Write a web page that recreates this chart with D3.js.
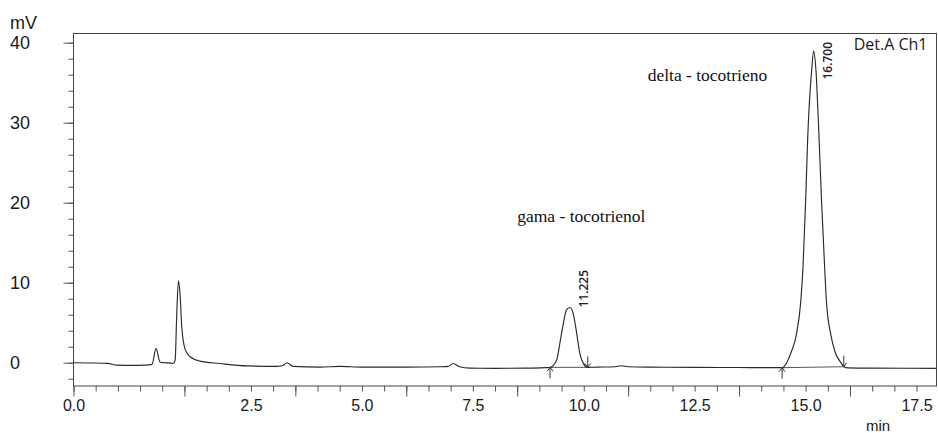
<!DOCTYPE html>
<html>
<head>
<meta charset="utf-8">
<script src="https://cdn.jsdelivr.net/npm/d3@7"></script>
<style>
  body { margin: 0; background: #fff; }
  svg { display: block; }
</style>
</head>
<body>
<div id="chart"></div>
<script>
// retention time (min) and detector signal (mV)
var time = [0, 0.4, 0.77, 0.98, 1.3, 1.6, 1.77, 1.86, 1.95, 2.05, 2.2, 2.25, 2.29, 2.33, 2.365, 2.40, 2.44, 2.52, 2.63, 2.85, 3.3,
  3.91, 4.6, 4.72, 4.81, 4.95, 5.56, 6.0, 6.5, 7.5, 8.3, 8.45, 8.56, 8.7, 8.93, 9.5, 10.2, 10.62,
  10.74, 10.89, 10.96, 11.04, 11.11, 11.19, 11.26, 11.34, 11.41, 11.49, 11.59,
  11.8, 12.2, 12.35, 12.5, 13.0, 14.0, 15.0, 15.7,
  15.97, 16.18, 16.29, 16.39, 16.44, 16.50, 16.55, 16.64, 16.68, 16.73, 16.80, 16.86, 16.93, 16.97, 17.07, 17.16, 17.31, 17.36,
  17.45, 18.0, 19.45];
var signal = [0, -0.03, -0.08, -0.3, -0.33, -0.3, -0.2, 1.8, 0.1, 0.0, -0.05, -0.08, 0.3, 6.6, 10.25, 8.7, 4.5, 1.6, 0.75, 0.2, -0.1,
  -0.4, -0.45, -0.35, 0.0, -0.45, -0.55, -0.45, -0.55, -0.55, -0.5, -0.45, -0.1, -0.5, -0.68, -0.7, -0.68, -0.62,
  -0.58, 0.34, 2.4, 4.9, 6.6, 6.9, 6.2, 3.7, 1.2, -0.08, -0.58,
  -0.55, -0.5, -0.38, -0.5, -0.55, -0.58, -0.6, -0.62,
  -0.62, 1.4, 3.46, 7.6, 11.8, 20.1, 28.5, 36.8, 39.0, 36.8, 28.5, 20.1, 11.8, 7.6, 3.46, 1.4, -0.1, -0.5,
  -0.65, -0.68, -0.7];

// integrated peaks
var peakLabels = ["11.225", "16.700"];
var peakTop = [11.19, 16.68];
var peakHeight = [6.9, 39.0];
var peakStart = [10.74, 15.97];
var peakStartValue = [-0.58, -0.62];
var peakEnd = [11.59, 17.36];
var peakEndValue = [-0.58, -0.5];

// compound names (time, mV of text anchor)
var compoundNames = ["gama - tocotrienol", "delta - tocotrieno"];
var compoundTime = [10.0, 12.94];
var compoundValue = [17.6, 35.2];

var xMajor = [0, 2.5, 5.0, 7.5, 10.0, 12.5, 15.0, 17.5];
var yMajor = [0, 10, 20, 30, 40];

var margin = { top: 33.5, right: 1.5, bottom: 47, left: 73.5 },
    width = 938 - margin.left - margin.right,
    height = 433 - margin.top - margin.bottom;

var svg = d3.select("#chart")
    .append("svg")
    .attr("width", 938)
    .attr("height", 433)
    .append("g")
    .attr("transform", "translate(" + margin.left + "," + margin.top + ")");

var x = d3.scaleLinear().domain([0, 19.45]).range([0, width]);
var y = d3.scaleLinear().domain([-2.91, 41.15]).range([height, 0]);

// minor ticks
var xMinor = d3.range(0, 19.45, 0.5);
var yMinor = d3.range(-2, 41, 2);

svg.append("g")
    .attr("transform", "translate(0," + height + ")")
    .call(d3.axisBottom(x).tickValues(xMinor).tickSize(5.5).tickFormat(""))
    .call(g => g.select(".domain").remove());
svg.append("g")
    .call(d3.axisLeft(y).tickValues(yMinor).tickSize(5).tickFormat(""))
    .call(g => g.select(".domain").remove());

// major x ticks; the labels sit 1.5 min right of their ticks in the original
var labelShift = x(1.5) - x(0);
svg.append("g")
    .attr("class", "axis axis--x")
    .attr("transform", "translate(0," + height + ")")
    .call(d3.axisBottom(x).tickValues(xMajor).tickSize(10.5).tickFormat(d3.format(".1f")))
    .call(g => g.select(".domain").remove())
    .call(g => g.selectAll("text")
        .attr("x", d => d > 0 ? labelShift : 0)
        .attr("font-size", "16px"));

svg.append("g")
    .attr("class", "axis axis--y")
    .call(d3.axisLeft(y).tickValues(yMajor).tickSize(10).tickFormat(d3.format("d")))
    .call(g => g.select(".domain").remove())
    .call(g => g.selectAll("text")
        .attr("x", 10 - margin.left)
        .attr("text-anchor", "start")
        .attr("font-size", "18px"));

svg.selectAll(".tick line").attr("stroke", "#555");
svg.selectAll(".tick text")
    .attr("font-family", "'Liberation Sans', Arial, sans-serif")
    .attr("fill", "#1a1a1a");

// frame
svg.append("rect")
    .attr("width", width)
    .attr("height", height)
    .attr("fill", "none")
    .attr("stroke", "#444")
    .attr("stroke-width", 1);

// axis titles
svg.append("text")
    .attr("x", 10 - margin.left)
    .attr("y", 29 - margin.top)
    .attr("font-family", "'Liberation Sans', Arial, sans-serif")
    .attr("font-size", "18px")
    .attr("fill", "#1a1a1a")
    .text("mV");

svg.append("text")
    .attr("x", 866 - margin.left)
    .attr("y", 431 - margin.top)
    .attr("font-family", "'Liberation Sans', Arial, sans-serif")
    .attr("font-size", "15px")
    .attr("fill", "#1a1a1a")
    .text("min");

svg.append("text")
    .attr("x", width - 9)
    .attr("y", 50 - margin.top)
    .attr("text-anchor", "end")
    .attr("font-family", "'Open Sans', sans-serif")
    .attr("font-size", "16px")
    .attr("fill", "#1a1a1a")
    .text("Det.A Ch1");

// baselines of integrated peaks
svg.selectAll(".baseline")
    .data(peakStart)
    .enter()
    .append("line")
    .attr("class", "baseline")
    .attr("x1", (d, i) => x(d))
    .attr("y1", (d, i) => y(peakStartValue[i]))
    .attr("x2", (d, i) => x(peakEnd[i]))
    .attr("y2", (d, i) => y(peakEndValue[i]))
    .attr("stroke", "#555")
    .attr("stroke-width", 1);

// chromatogram
var line = d3.line()
    .x((d, i) => x(time[i]))
    .y(d => y(d))
    .curve(d3.curveMonotoneX);

svg.append("path")
    .datum(signal)
    .attr("d", line)
    .attr("fill", "none")
    .attr("stroke", "#2a2a2a")
    .attr("stroke-width", 1.15);

// start (up) and end (down) markers
svg.selectAll(".startArrow")
    .data(peakStart)
    .enter()
    .append("path")
    .attr("class", "startArrow")
    .attr("d", (d, i) => {
        var px = x(d), py = y(peakStartValue[i]);
        return "M" + px + "," + (py + 11) + "V" + py +
            "M" + (px - 3) + "," + (py + 4) + "L" + px + "," + py + "L" + (px + 3) + "," + (py + 4);
    })
    .attr("fill", "none")
    .attr("stroke", "#333")
    .attr("stroke-width", 1);

svg.selectAll(".endArrow")
    .data(peakEnd)
    .enter()
    .append("path")
    .attr("class", "endArrow")
    .attr("d", (d, i) => {
        var px = x(d), py = y(peakEndValue[i]);
        return "M" + px + "," + (py - 11) + "V" + py +
            "M" + (px - 3) + "," + (py - 4) + "L" + px + "," + py + "L" + (px + 3) + "," + (py - 4);
    })
    .attr("fill", "none")
    .attr("stroke", "#333")
    .attr("stroke-width", 1);

// retention time labels, rotated
svg.selectAll(".rtLabel")
    .data(peakLabels)
    .enter()
    .append("text")
    .attr("class", "rtLabel")
    .attr("transform", (d, i) => {
        var px = x(peakTop[i]) + 18;
        var py = Math.max(y(peakHeight[i]), 46);
        return "translate(" + px + "," + py + ") rotate(-90)";
    })
    .attr("font-family", "'Open Sans', sans-serif")
    .attr("font-size", "12px")
    .attr("font-weight", 600)
    .attr("fill", "#1a1a2a")
    .text(d => d);

// compound names
svg.selectAll(".compound")
    .data(compoundNames)
    .enter()
    .append("text")
    .attr("class", "compound")
    .attr("x", (d, i) => x(compoundTime[i]))
    .attr("y", (d, i) => y(compoundValue[i]))
    .attr("font-family", "'Liberation Serif', 'Times New Roman', serif")
    .attr("font-size", "17.5px")
    .attr("fill", "#111")
    .text(d => d);
</script>
</body>
</html>
